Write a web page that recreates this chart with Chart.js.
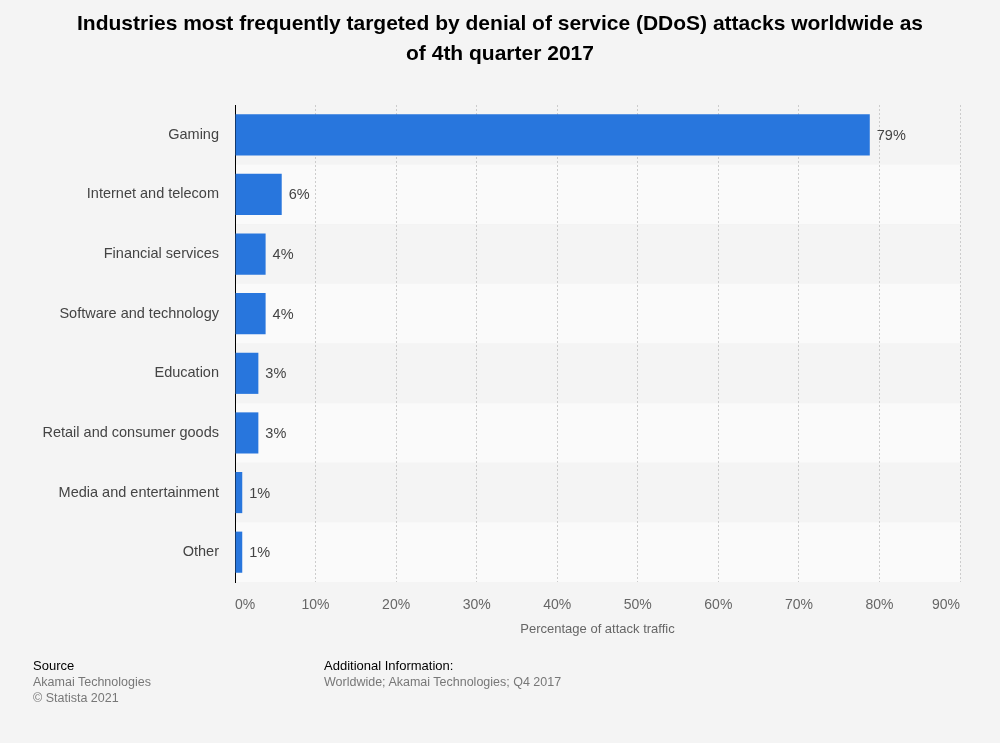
<!DOCTYPE html>
<html><head><meta charset="utf-8">
<script src="https://cdn.jsdelivr.net/npm/chart.js@4/dist/chart.umd.min.js"></script>
<style>
html,body{margin:0;padding:0;background:#f4f4f4;font-family:"Liberation Sans",Arial,sans-serif;}
#wrap{position:relative;width:1000px;height:743px;}
canvas{position:absolute;left:0;top:0;}
.t{position:absolute;left:0;width:1000px;text-align:center;font-weight:bold;font-size:21px;color:#000;line-height:30px;top:8px;}
.ax{position:absolute;left:235px;width:725px;text-align:center;font-size:13px;color:#666;top:621px;}
.f{position:absolute;font-size:12.5px;line-height:16px;}
.k{color:#000;font-size:13px;}
.g{color:#777;}
</style></head><body>
<div id="wrap">
<canvas id="c" width="1000" height="743"></canvas>
<div class="t">Industries most frequently targeted by denial of service (DDoS) attacks worldwide as<br>of 4th quarter 2017</div>
<div class="ax">Percentage of attack traffic</div>
<div class="f" style="left:33px;top:658px;"><div class="k">Source</div><div class="g">Akamai Technologies</div><div class="g">© Statista 2021</div></div>
<div class="f" style="left:324px;top:658px;"><div class="k">Additional Information:</div><div class="g">Worldwide; Akamai Technologies; Q4 2017</div></div>
</div>
<script>
const categories = ["Gaming","Internet and telecom","Financial services","Software and technology","Education","Retail and consumer goods","Media and entertainment","Other"];
const values = [78.8, 5.8, 3.8, 3.8, 2.9, 2.9, 0.9, 0.9];
const valueLabels = ["79%","6%","4%","4%","3%","3%","1%","1%"];
const xTicks = [0,10,20,30,40,50,60,70,80,90];

const bands = {
  id:'bands',
  beforeDraw(chart){
    const {ctx, chartArea:a, scales:{y}} = chart;
    const step = (y.getPixelForValue(1) - y.getPixelForValue(0));
    ctx.save();
    categories.forEach((c,i)=>{
      const yc = y.getPixelForValue(i);
      ctx.fillStyle = i%2===0 ? '#f4f4f4' : '#fafafa';
      ctx.fillRect(a.left, yc-step/2, a.right-a.left, step);
    });
    ctx.restore();
  }
};
const labelsPlugin = {
  id:'vlabels',
  afterDatasetsDraw(chart){
    const {ctx} = chart;
    const meta = chart.getDatasetMeta(0);
    ctx.save();
    ctx.font = '14.5px "Liberation Sans", Arial, sans-serif';
    ctx.fillStyle = '#444';
    ctx.textBaseline = 'middle';
    ctx.textAlign = 'left';
    meta.data.forEach((bar,i)=>{
      ctx.fillText(valueLabels[i], bar.x + 7, bar.y + 1);
    });
    ctx.restore();
  }
};

new Chart(document.getElementById('c'), {
  type:'bar',
  data:{labels:categories, datasets:[{data:values, backgroundColor:'#2876dd', borderWidth:0, categoryPercentage:0.69, barPercentage:1}]},
  options:{
    indexAxis:'y',
    responsive:false,
    animation:false,
    layout:{padding:{top:105,right:40,left:0,bottom:0}},
    plugins:{legend:{display:false}, tooltip:{enabled:false}},
    scales:{
      x:{
        min:0,max:90,
        afterBuildTicks(s){ s.ticks = xTicks.map(v=>({value:v})); },
        afterFit(s){ s.height = 161; },
        grid:{color:'#cccccc', drawTicks:false},
        border:{display:false, dash:[2,2]},
        ticks:{padding:15, align:'inner', color:'#666', font:{size:14, family:'"Liberation Sans", Arial, sans-serif'}, callback:v=>v+'%'}
      },
      y:{
        afterFit(s){ s.width = 235; },
        grid:{display:false, drawTicks:false},
        border:{display:true, color:'#000', width:1},
        ticks:{padding:16, color:'#444', font:{size:14.5, family:'"Liberation Sans", Arial, sans-serif'}}
      }
    }
  },
  plugins:[bands, labelsPlugin]
});
</script>
</body></html>
